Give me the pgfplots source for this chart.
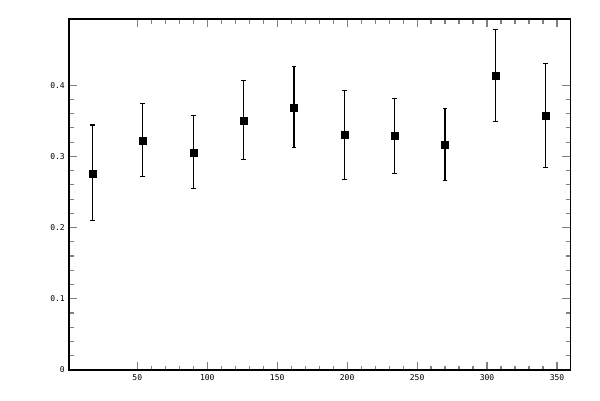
\documentclass[border=0pt]{standalone}
\usepackage{fontspec}
\setmainfont{DejaVu Sans Mono}
\usepackage{pgfplots}
\pgfplotsset{compat=1.18}
\begin{document}
\begin{tikzpicture}[x=1pt,y=1pt]
\useasboundingbox (-69.3,-30) rectangle (530.7,370);
\begin{axis}[
    at={(0,0)}, anchor=south west,
    scale only axis,
    width=501pt, height=350.7pt,
    xmin=1.4, xmax=359.5,
    ymin=0, ymax=0.4925,
    xtick={50,100,...,350},
    ytick={0,0.1,...,0.4},
    minor x tick num=4,
    minor y tick num=4,
    tick align=inside,
    major tick length=8pt,
    minor tick length=4.5pt,
    every major tick/.style={line width=1.2pt, tick align=center},
    every minor tick/.style={line width=1.2pt},
    separate axis lines,
    axis line style={line width=1.6pt, line cap=rect},
    tick label style={font=\fontsize{8}{9}\selectfont},
    xticklabel style={yshift=-1pt},
    yticklabel style={xshift=-1pt},
    /pgf/number format/assume math mode=true,
    yticklabel={\pgfmathprintnumber[fixed,precision=1]{\tick}},
    scaled y ticks=false,
]
\addplot[
    only marks, mark=square*, mark size=3.5pt, black,
    error bars/.cd,
    y dir=both, y explicit,
    error bar style={line width=1.2pt},
    error mark options={rotate=90, mark size=2.4pt, line width=1.2pt},
] table[x=x, y=y, y error plus=ep, y error minus=em] {
x   y      ep     em
18  0.276  0.068  0.066
54  0.322  0.052  0.050
90  0.3055 0.0515 0.0505
126 0.350  0.057  0.054
162 0.369  0.057  0.0564
198 0.331  0.0615 0.0634
234 0.329  0.052  0.053
270 0.3167 0.0503 0.0507
306 0.4135 0.0645 0.0645
342 0.3575 0.0729 0.073
};
\end{axis}
\end{tikzpicture}
\end{document}
